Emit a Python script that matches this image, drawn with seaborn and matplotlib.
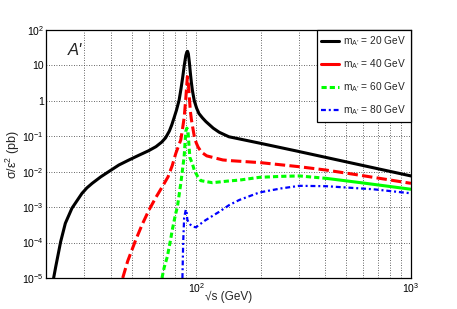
import numpy as np
import matplotlib
matplotlib.use("Agg")
import matplotlib.pyplot as plt
import matplotlib.ticker as mticker
from matplotlib.lines import Line2D
import seaborn as sns

# sqrt(s) in GeV and sigma/eps^2 in pb
x20 = [21.7, 22.2, 23.4, 24.6, 26.4, 29.4, 31, 32.8, 36, 39.3, 43.7, 48.7, 54, 60, 65, 69, 72,
       75, 77, 79, 81, 83.3, 85, 86.5, 88, 89.5, 90.5, 91.2, 92, 93, 94, 95, 96, 98, 100.5, 103,
       107, 111, 120, 128, 142, 200, 290, 400, 600, 1000]
y20 = [1e-5, 2.1e-5, 1.06e-4, 3.5e-4, 9.3e-4, 2.45e-3, 3.5e-3, 4.7e-3, 7.2e-3, 1.02e-2, 1.55e-2,
       2.15e-2, 2.9e-2, 3.9e-2, 5.1e-2, 6.8e-2, 9e-2, 0.14, 0.21, 0.34, 0.55, 1.05, 2.2, 4.5, 10,
       19, 24, 25, 21, 12, 6, 3.3, 2.0, 1.0, 0.62, 0.44, 0.33, 0.26, 0.17, 0.13, 0.097, 0.063,
       0.039, 0.0255, 0.0149, 0.0076]

x40 = [45.5, 48, 52.3, 56, 60.3, 65, 69.6, 74, 77.4, 80.4, 84.8, 86.5, 88, 89.5, 90.5, 91, 92,
       93, 94, 95, 96.5, 98, 100, 102, 104.5, 107, 112, 119, 133, 145, 200, 300, 400, 600, 1000]
y40 = [1e-5, 3e-5, 1.18e-4, 3.2e-4, 8.3e-4, 1.9e-3, 3.8e-3, 7.2e-3, 1.5e-2, 3.3e-2, 7.9e-2, 0.17,
       0.35, 1.2, 3.0, 4.8, 3.0, 1.2, 0.5, 0.3, 0.17, 0.1, 0.066, 0.05, 0.04, 0.034, 0.028,
       0.0255, 0.0215, 0.0205, 0.018, 0.0139, 0.0112, 0.0077, 0.0047]

x60 = [69.3, 71, 73.4, 76, 77.4, 80, 81.8, 84.8, 87.9, 89.5, 90.5, 91.5, 92.7, 93.5, 96, 98,
       101.4, 105, 119, 142.6, 159, 197, 250, 303, 403, 600, 1000]
y60 = [1e-5, 2e-5, 4e-5, 1.2e-4, 2.27e-4, 6e-4, 1.03e-3, 4.7e-3, 2.65e-2, 0.14, 0.17, 0.15, 0.05,
       0.025, 0.017, 0.011, 7.5e-3, 5.6e-3, 4.9e-3, 5.5e-3, 5.8e-3, 6.95e-3, 7.4e-3, 7.6e-3,
       6.5e-3, 4.8e-3, 3.2e-3]

x80 = [86.3, 87, 87.9, 89.5, 90.3, 91, 92, 94, 97, 99.7, 110, 128, 142.6, 159, 197, 250, 303,
       403, 667, 1000]
y80 = [1e-5, 1e-4, 5e-4, 8.5e-4, 7e-4, 4.4e-4, 3.8e-4, 3.2e-4, 2.8e-4, 2.7e-4, 4.2e-4, 7.4e-4,
       1.15e-3, 1.6e-3, 2.6e-3, 3.4e-3, 4.0e-3, 3.9e-3, 3.2e-3, 2.46e-3]

masses = [20, 40, 60, 80]
colors = ["black", "#ff0000", "#00ff00", "#0000ff"]
green_solid_from = 403  # the green dashes turn into a solid line from here on

x_major = [100, 1000]
y_major = [1e-5, 1e-4, 1e-3, 1e-2, 1e-1, 1, 10, 100]

sns.set_style("white")
plt.rcParams["font.family"] = ["Liberation Sans", "DejaVu Sans"]
plt.rcParams["mathtext.fontset"] = "custom"
plt.rcParams["mathtext.rm"] = "Liberation Sans"
plt.rcParams["mathtext.it"] = "Liberation Sans:italic"
plt.rcParams["mathtext.default"] = "regular"

fig = plt.figure(figsize=(4.57, 3.09), dpi=100)
ax = fig.add_axes([0.1007, 0.1003, 0.7986, 0.8026])

styles = [
    dict(lw=2.2, linestyle="-"),
    dict(lw=2.2, linestyle=(0, (3.4, 1.4))),
    dict(lw=2.2, linestyle=(0, (1.7, 1.0))),
    dict(lw=1.6, linestyle=(0, (2.2, 1.3, 0.9, 1.3))),
]

sns.lineplot(x=x20, y=y20, ax=ax, color=colors[0], estimator=None, sort=False, **styles[0])
sns.lineplot(x=x40, y=y40, ax=ax, color=colors[1], estimator=None, sort=False, **styles[1])
x60a = np.array(x60)
y60a = np.array(y60)
m1 = x60a <= green_solid_from
m2 = x60a >= green_solid_from
sns.lineplot(x=x60a[m1], y=y60a[m1], ax=ax, color=colors[2], estimator=None, sort=False, **styles[2])
sns.lineplot(x=x60a[m2], y=y60a[m2], ax=ax, color=colors[2], estimator=None, sort=False,
             lw=2.2, linestyle="-")
sns.lineplot(x=x80, y=y80, ax=ax, color=colors[3], estimator=None, sort=False, **styles[3])

ax.set_xscale("log")
ax.set_yscale("log")
ax.set_xlim(20, 1000)
ax.set_ylim(1e-5, 1e2)

# ticks, ROOT-like: inside, left and bottom only
x_minor = [v * d for d in (10, 100) for v in range(2, 10) if 20 <= v * d <= 1000]
y_minor = [v * d for d in y_major[:-1] for v in range(2, 10)]
ax.xaxis.set_major_locator(mticker.FixedLocator(x_major))
ax.xaxis.set_minor_locator(mticker.FixedLocator(x_minor))
ax.yaxis.set_major_locator(mticker.FixedLocator(y_major))
ax.yaxis.set_minor_locator(mticker.FixedLocator(y_minor))
ax.xaxis.set_minor_formatter(mticker.NullFormatter())
ax.yaxis.set_minor_formatter(mticker.NullFormatter())


def log_label(v, pos):
    e = int(round(np.log10(v)))
    if e == 0:
        return "1"
    if e == 1:
        return "10"
    return r"$10^{%d}$" % e


ax.xaxis.set_major_formatter(mticker.FuncFormatter(log_label))
ax.yaxis.set_major_formatter(mticker.FuncFormatter(log_label))
ax.tick_params(axis="both", which="both", direction="in", top=False, right=False,
               labelsize=7.5, colors="black", width=0.7)
ax.tick_params(axis="x", which="major", length=6.5, pad=2)
ax.tick_params(axis="x", which="minor", length=3)
ax.tick_params(axis="y", which="major", length=5, pad=1.5)
ax.tick_params(axis="y", which="minor", length=3.5)

# dotted grid: every x tick, only the decades on y
ax.grid(True, which="major", axis="both", color="#333333", linestyle=(0, (1, 2)), lw=0.6)
ax.grid(True, which="minor", axis="x", color="#333333", linestyle=(0, (1, 2)), lw=0.6)
ax.set_axisbelow(True)
for sp in ax.spines.values():
    sp.set_color("black")
    sp.set_linewidth(0.9)

ax.set_xlabel("√s (GeV)", fontsize=8.5)
ax.xaxis.set_label_coords(0.5, -0.077)
ax.xaxis.label.set_va("center")
ax.set_ylabel(r"σ/ε$^{2}$ (pb)", fontsize=9)
ax.yaxis.set_label_coords(-0.09, 0.5)
ax.yaxis.label.set_va("center")

ax.text(0.06, 0.90, "A'", transform=ax.transAxes, fontsize=12, style="italic",
        ha="left", va="baseline")

handles = [
    Line2D([], [], color=colors[0], lw=2.2),
    Line2D([], [], color=colors[1], lw=2.2),
    Line2D([], [], color=colors[2], lw=2.2, linestyle=(0, (1.7, 1.0))),
    Line2D([], [], color=colors[3], lw=1.6, linestyle=(0, (2.2, 1.3, 0.9, 1.3))),
]
labels = ["m$_{A\u2019}$ = %d GeV" % m for m in masses]
leg = ax.legend(handles, labels, loc="upper right", bbox_to_anchor=(1, 1), borderaxespad=0,
                fontsize=7.3, frameon=True, fancybox=False, edgecolor="black", framealpha=1,
                handlelength=1.8, handletextpad=0.4, labelspacing=0.9, borderpad=0.45)
leg.get_frame().set_linewidth(0.9)

fig.savefig("out.png", dpi=100)
